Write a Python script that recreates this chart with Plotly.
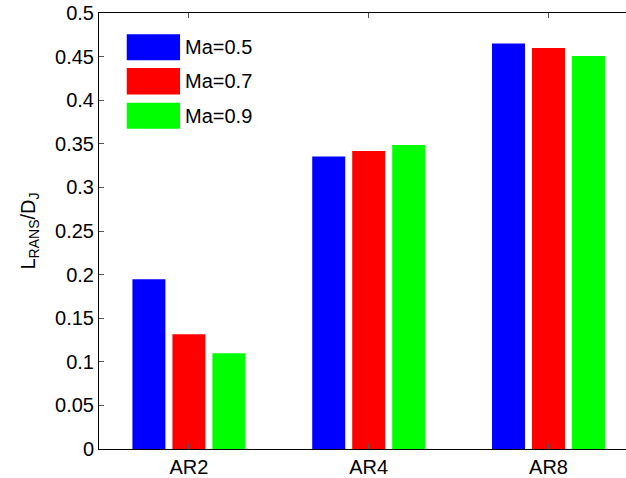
import plotly.graph_objects as go

categories = ["AR2", "AR4", "AR8"]
series_names = ["Ma=0.5", "Ma=0.7", "Ma=0.9"]
ma05 = [0.1946, 0.3353, 0.4649]
ma07 = [0.1315, 0.3417, 0.4599]
ma09 = [0.1097, 0.3486, 0.4507]
colors = ["#0000FF", "#FF0000", "#00FF00"]
y_tickvals = [0, 0.05, 0.1, 0.15, 0.2, 0.25, 0.3, 0.35, 0.4, 0.45, 0.5]
y_ticktext = ["0", "0.05", "0.1", "0.15", "0.2", "0.25", "0.3", "0.35", "0.4", "0.45", "0.5"]

FONT = "Liberation Sans, Arial, Helvetica, sans-serif"
FS = 20

fig = go.Figure()
for name, vals, c in zip(series_names, [ma05, ma07, ma09], colors):
    fig.add_trace(go.Bar(x=categories, y=vals, name=name, marker=dict(color=c, line=dict(width=0)),
                         showlegend=False))

# MATLAB-like legend (large colored patches, no box)
leg_x0, leg_x1, leg_tx = -0.3457, -0.0492, -0.0326
leg_rows = [(0.4756, 0.4458), (0.4369, 0.4064), (0.3972, 0.3674)]
for (y1, y0), name, c in zip(leg_rows, series_names, colors):
    fig.add_shape(type="rect", xref="x", yref="y", x0=leg_x0, x1=leg_x1, y0=y0, y1=y1,
                  fillcolor=c, line=dict(width=0), layer="above")
    fig.add_annotation(xref="x", yref="y", x=leg_tx, y=(y0 + y1) / 2, text=name, showarrow=False,
                       xanchor="left", yanchor="middle", font=dict(family=FONT, size=FS, color="black"))

fig.update_layout(
    width=626, height=478,
    margin=dict(l=99, r=0, t=13, b=29),
    paper_bgcolor="white", plot_bgcolor="white",
    bargap=0.333, bargroupgap=0.175,
    font=dict(family=FONT, size=FS, color="black"),
)
fig.update_xaxes(
    range=[-0.5, 0.5 + (626 - 99) / 179.8 - 1], showline=True, linecolor="black", linewidth=1,
    mirror="ticks", ticks="inside", ticklen=5, tickcolor="#555555", showgrid=False,
    tickfont=dict(family=FONT, size=FS, color="black"), zeroline=False,
)
fig.update_yaxes(
    range=[0, 0.5], tickvals=y_tickvals, ticktext=y_ticktext, showline=True, linecolor="black",
    linewidth=1, mirror=False, ticks="inside", ticklen=5, tickcolor="#555555", showgrid=False,
    zeroline=False, tickfont=dict(family=FONT, size=FS, color="black"),
    title=dict(text="L<sub>RANS</sub>/D<sub>J</sub>", font=dict(family=FONT, size=FS, color="black"), standoff=14),
)

fig.write_html("out.html")
